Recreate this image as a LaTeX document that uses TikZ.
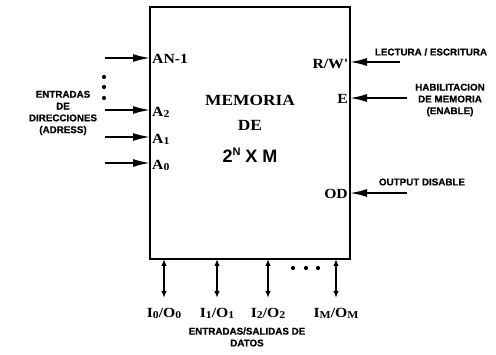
\documentclass[tikz,border=0pt]{standalone}
\usepackage{fontspec}
\setmainfont[FakeStretch=1.12]{Liberation Serif}
\newfontfamily\capf[FakeBold=0.6]{Liberation Sans}
\newfontfamily\sansf{Liberation Sans}
\usetikzlibrary{arrows.meta}
\newcommand{\sbd}[1]{\raisebox{-0.15ex}{\fontsize{10.5}{10.5}\selectfont #1}}
\tikzset{
  mem/.style={draw, line width=1.6pt},
  inarr/.style={line width=1.8pt, -{Latex[length=17pt,width=8pt]}},
  ioarr/.style={line width=1.5pt, {Latex[length=7pt,width=5.5pt]}-{Latex[length=7pt,width=5.5pt]}},
  port/.style={inner sep=0pt, font=\bfseries\fontsize{14}{15}\selectfont},
  captxt/.style={inner sep=0pt, align=center, font=\capf\bfseries\fontsize{9.8}{11.8}\selectfont},
  bigtxt/.style={inner sep=0pt, font=\bfseries\fontsize{15.5}{18}\selectfont},
  blob/.style={circle, fill, inner sep=0pt, minimum size=4.2pt}
}
\begin{document}
\begin{tikzpicture}[x=1pt,y=-1pt]
\useasboundingbox (0,0) rectangle (496,355);
\node[mem, minimum width=200pt, minimum height=252pt, inner sep=0pt] (box) at (250,133) {};
% center text
\node[bigtxt] (t1) at (250,100) {MEMORIA};
\node[bigtxt] (t2) at (250,125) {DE};
\node[bigtxt, font=\sansf\bfseries\fontsize{18}{20}\selectfont] (t3) at (250,155) {2\raisebox{0.75ex}{\fontsize{11}{11}\selectfont N} X M};
% address inputs
\coordinate (aN) at (105,58);  \coordinate (aNe) at (150,58);
\coordinate (a2) at (105,110); \coordinate (a2e) at (150,110);
\coordinate (a1) at (105,137); \coordinate (a1e) at (150,137);
\coordinate (a0) at (105,163); \coordinate (a0e) at (150,163);
\draw[inarr] (aN) -- (aNe);
\draw[inarr] (a2) -- (a2e);
\draw[inarr] (a1) -- (a1e);
\draw[inarr] (a0) -- (a0e);
\node[port, anchor=west] (lN) at (152,59) {AN-1};
\node[port, anchor=west] (l2) at (152,112) {A\sbd{2}};
\node[port, anchor=west] (l1) at (152,139) {A\sbd{1}};
\node[port, anchor=west] (l0) at (152,165) {A\sbd{0}};
\node[blob] (d1) at (104,77) {};
\node[blob] (d2) at (104,87) {};
\node[blob] (d3) at (104,98) {};
\node[captxt] (addr) at (63,113) {ENTRADAS\\DE\\DIRECCIONES\\(ADRESS)};
% control inputs
\coordinate (rw) at (400,62); \coordinate (rwe) at (350,62);
\coordinate (en) at (407,98); \coordinate (ene) at (350,98);
\coordinate (od) at (407,193); \coordinate (ode) at (350,193);
\draw[inarr] (rw) -- (rwe);
\draw[inarr] (en) -- (ene);
\draw[inarr] (od) -- (ode);
\node[port, anchor=east] (lrw) at (348,64) {R/W\textquotesingle};
\node[port, anchor=east] (len) at (348,99) {E};
\node[port, anchor=east] (lod) at (348,194) {OD};
\node[captxt] (crw) at (431,52) {LECTURA / ESCRITURA};
\node[captxt] (cen) at (450,100) {HABILITACION\\DE MEMORIA\\(ENABLE)};
\node[captxt] (cod) at (422,182) {OUTPUT DISABLE};
% data I/O
\coordinate (b0) at (164,259); \coordinate (e0) at (164,298);
\coordinate (b1) at (217,259); \coordinate (e1) at (217,298);
\coordinate (b2) at (268,259); \coordinate (e2) at (268,298);
\coordinate (bm) at (336,259); \coordinate (em) at (336,298);
\draw[ioarr] (b0) -- (e0);
\draw[ioarr] (b1) -- (e1);
\draw[ioarr] (b2) -- (e2);
\draw[ioarr] (bm) -- (em);
\node[blob] (d4) at (293,268) {};
\node[blob] (d5) at (306,268) {};
\node[blob] (d6) at (318,268) {};
\node[port] (o0) at (164,313) {I\sbd{0}/O\sbd{0}};
\node[port] (o1) at (217,313) {I\sbd{1}/O\sbd{1}};
\node[port] (o2) at (268,313) {I\sbd{2}/O\sbd{2}};
\node[port] (om) at (336,313) {I\sbd{M}/O\sbd{M}};
\node[captxt] (data) at (247,337) {ENTRADAS/SALIDAS DE\\DATOS};
\end{tikzpicture}
\end{document}
